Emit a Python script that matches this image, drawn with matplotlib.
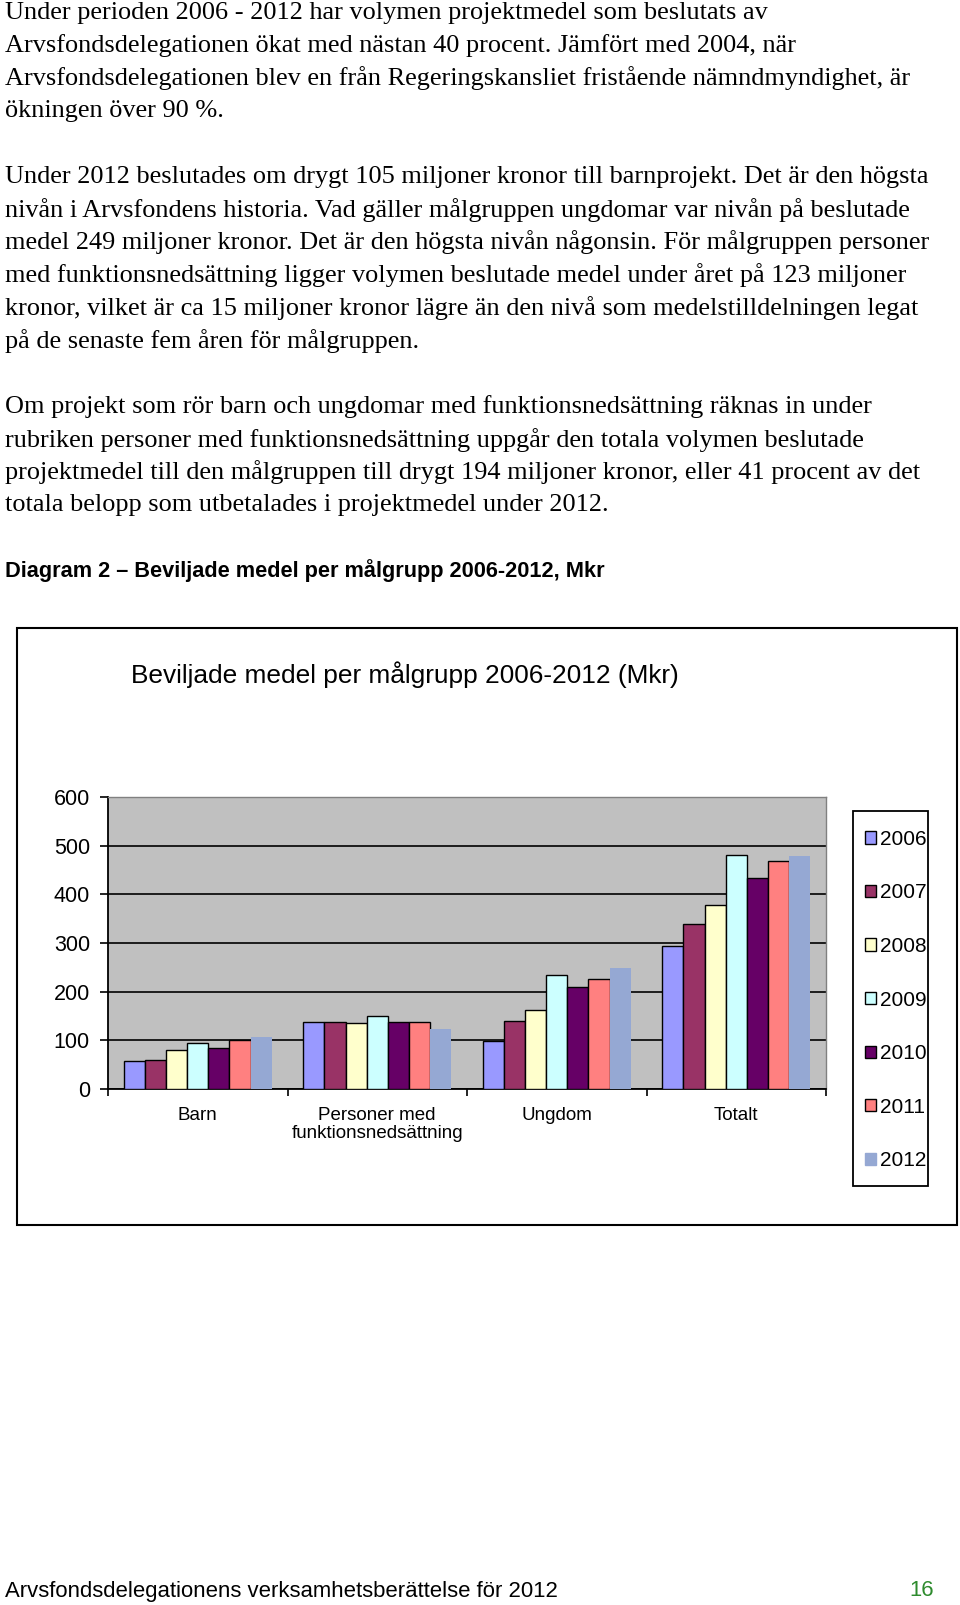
import matplotlib
matplotlib.use("Agg")
import matplotlib.pyplot as plt
from matplotlib.patches import Rectangle, Patch

# chart data (Mkr)
categories = ["Barn", "Personer med\nfunktionsnedsättning", "Ungdom", "Totalt"]
years = ["2006", "2007", "2008", "2009", "2010", "2011", "2012"]
v2006 = [57, 138, 98, 294]
v2007 = [60, 138, 139, 339]
v2008 = [81, 135, 163, 379]
v2009 = [95, 149, 234, 481]
v2010 = [85, 138, 210, 434]
v2011 = [100, 138, 227, 468]
v2012 = [106, 123, 249, 479]
series = [v2006, v2007, v2008, v2009, v2010, v2011, v2012]
colors = ["#9999FF", "#993366", "#FFFFCC", "#CCFFFF", "#660066", "#FF8080", "#95A8D3"]
yticks = [0, 100, 200, 300, 400, 500, 600]

para1 = [
    "Under perioden 2006 - 2012 har volymen projektmedel som beslutats av",
    "Arvsfondsdelegationen ökat med nästan 40 procent. Jämfört med 2004, när",
    "Arvsfondsdelegationen blev en från Regeringskansliet fristående nämndmyndighet, är",
    "ökningen över 90 %.",
]
para2 = [
    "Under 2012 beslutades om drygt 105 miljoner kronor till barnprojekt. Det är den högsta",
    "nivån i Arvsfondens historia. Vad gäller målgruppen ungdomar var nivån på beslutade",
    "medel 249 miljoner kronor. Det är den högsta nivån någonsin. För målgruppen personer",
    "med funktionsnedsättning ligger volymen beslutade medel under året på 123 miljoner",
    "kronor, vilket är ca 15 miljoner kronor lägre än den nivå som medelstilldelningen legat",
    "på de senaste fem åren för målgruppen.",
]
para3 = [
    "Om projekt som rör barn och ungdomar med funktionsnedsättning räknas in under",
    "rubriken personer med funktionsnedsättning uppgår den totala volymen beslutade",
    "projektmedel till den målgruppen till drygt 194 miljoner kronor, eller 41 procent av det",
    "totala belopp som utbetalades i projektmedel under 2012.",
]

W, H = 960, 1605
fig = plt.figure(figsize=(W / 100, H / 100), dpi=100)
fig.patch.set_facecolor("white")

serif = "Liberation Serif"
sans = "Liberation Sans"

# body text
def put_lines(lines, y0):
    for k, s in enumerate(lines):
        y = y0 + k * 32.75
        fig.text(5 / W, 1 - y / H, s, family=serif, fontsize=18.9, va="center", ha="left")

put_lines(para1, 13)
put_lines(para2, 177)
put_lines(para3, 407)

fig.text(5 / W, 1 - 571 / H, "Diagram 2 – Beviljade medel per målgrupp 2006-2012, Mkr",
         family=sans, fontsize=15.7, fontweight="bold", va="center", ha="left")

# chart frame
fig.patches.append(Rectangle((17 / W, 1 - 1225 / H), 940 / W, 597 / H, transform=fig.transFigure,
                             fill=False, edgecolor="black", linewidth=1.5))

fig.text(405 / W, 1 - 675 / H, "Beviljade medel per målgrupp 2006-2012 (Mkr)",
         family=sans, fontsize=18.9, va="center", ha="center")

ax = fig.add_axes([108 / W, 1 - 1089 / H, 718 / W, 292 / H])
ax.set_facecolor("#C0C0C0")

n = len(years)
bw = 1 / (n + 1.5)
for j, (vals, col) in enumerate(zip(series, colors)):
    xs = [i + (j - (n - 1) / 2) * bw for i in range(len(categories))]
    if j < n - 1:
        ax.bar(xs, vals, width=bw, color=col, edgecolor="black", linewidth=1.0, zorder=3)
    else:
        ax.bar(xs, vals, width=bw, color=col, edgecolor="none", zorder=3)

ax.set_xlim(-0.5, len(categories) - 0.5)
ax.set_ylim(0, 600)
ax.set_yticks(yticks)
ax.set_yticklabels([str(t) for t in yticks], family=sans, fontsize=15.5)
ax.yaxis.grid(True, color="black", linewidth=1.2, zorder=1)
ax.set_axisbelow(True)
ax.tick_params(axis="y", length=6, width=1.2, direction="out", pad=7)

ax.set_xticks(range(len(categories)))
ax.set_xticklabels(categories, family=sans, fontsize=13.5, linespacing=1.05)
ax.tick_params(axis="x", which="major", length=0, pad=13)
ax.set_xticks([i - 0.5 for i in range(len(categories) + 1)], minor=True)
ax.tick_params(axis="x", which="minor", length=5, width=1.2, direction="out")

ax.spines["left"].set_linewidth(1.3)
ax.spines["bottom"].set_linewidth(1.3)
ax.spines["top"].set_color("#808080")
ax.spines["right"].set_color("#808080")
ax.spines["top"].set_linewidth(1.0)
ax.spines["right"].set_linewidth(1.0)

# legend box drawn separately so its size matches the chart
fig.patches.append(Rectangle((853 / W, 1 - 1186 / H), 75 / W, 375 / H, transform=fig.transFigure,
                             fill=False, edgecolor="black", linewidth=1.3))
handles = []
for j, (yr, col) in enumerate(zip(years, colors)):
    ec = "black" if j < n - 1 else col
    handles.append(Patch(facecolor=col, edgecolor=ec, linewidth=1.0, label=yr))
fig.legend(handles=handles, loc="center left", bbox_to_anchor=(865 / W, 1 - 1000 / H),
           bbox_transform=fig.transFigure, frameon=False,
           prop={"family": sans, "size": 15}, handlelength=0.53, handleheight=0.53,
           handletextpad=0.2, labelspacing=1.66, borderpad=0, borderaxespad=0)

# footer
fig.text(5 / W, 1 - 1591 / H, "Arvsfondsdelegationens verksamhetsberättelse för 2012",
         family=sans, fontsize=15.9, va="center", ha="left")
fig.text(934 / W, 1 - 1591 / H, "16", family=sans, fontsize=15.9, va="center", ha="right",
         color="#2E8B2E")

fig.savefig("out.png", dpi=100)
